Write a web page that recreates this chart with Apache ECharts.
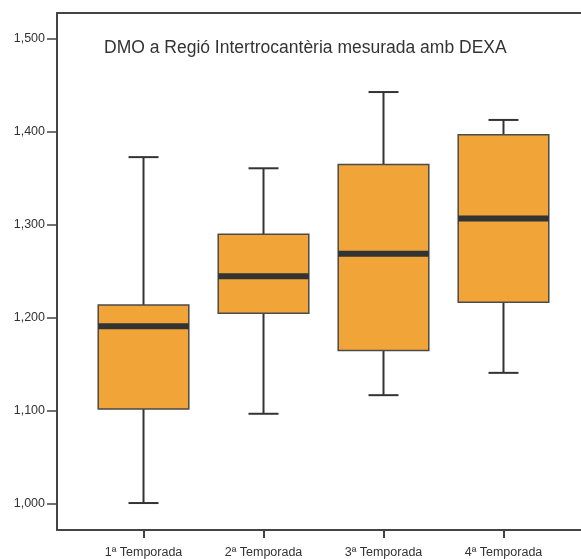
<!DOCTYPE html>
<html>
<head>
<meta charset="utf-8">
<script src="https://cdn.jsdelivr.net/npm/echarts@6/dist/echarts.min.js"></script>
<style>
  html, body { margin: 0; padding: 0; background: #fff; }
  #chart { width: 581px; height: 559px; }
</style>
</head>
<body>
<div id="chart"></div>
<script>
// Bone mineral density (g/cm²) per season, five-number summaries
const categories = ['1ª Temporada', '2ª Temporada', '3ª Temporada', '4ª Temporada'];
const minVals    = [1.001, 1.097, 1.117, 1.141];
const q1Vals     = [1.102, 1.205, 1.165, 1.217];
const medianVals = [1.191, 1.245, 1.269, 1.307];
const q3Vals     = [1.214, 1.290, 1.365, 1.397];
const maxVals    = [1.373, 1.361, 1.443, 1.413];
const yTicks     = [1.0, 1.1, 1.2, 1.3, 1.4, 1.5];
const xTicks     = [1, 2, 3, 4];
const titleText  = 'DMO a Regió Intertrocantèria mesurada amb DEXA';

const boxData = categories.map((c, i) => [i + 1, minVals[i], q1Vals[i], medianVals[i], q3Vals[i], maxVals[i]]);

const ink = '#333333';
const frame = '#444444';
const fill = '#F1A437';
const font = '"Liberation Sans", Arial, Helvetica, sans-serif';

function renderBox(params, api) {
  const x = api.value(0);
  const lo = api.coord([x, api.value(1)]);
  const q1 = api.coord([x, api.value(2)]);
  const med = api.coord([x, api.value(3)]);
  const q3 = api.coord([x, api.value(4)]);
  const hi = api.coord([x, api.value(5)]);
  const halfBox = api.size([0.755, 0])[0] / 2;
  const halfCap = api.size([0.25, 0])[0] / 2;
  const cx = lo[0];
  const lineStyle = { stroke: ink, lineWidth: 2 };
  return {
    type: 'group',
    children: [
      { type: 'line', shape: { x1: cx, y1: hi[1], x2: cx, y2: q3[1] }, style: lineStyle },
      { type: 'line', shape: { x1: cx, y1: q1[1], x2: cx, y2: lo[1] }, style: lineStyle },
      { type: 'line', shape: { x1: cx - halfCap, y1: hi[1], x2: cx + halfCap, y2: hi[1] }, style: lineStyle },
      { type: 'line', shape: { x1: cx - halfCap, y1: lo[1], x2: cx + halfCap, y2: lo[1] }, style: lineStyle },
      { type: 'rect', shape: { x: cx - halfBox, y: q3[1], width: halfBox * 2, height: q1[1] - q3[1] },
        style: { fill: fill, stroke: '#4a4a4a', lineWidth: 1.5 } },
      { type: 'line', shape: { x1: cx - halfBox, y1: med[1], x2: cx + halfBox, y2: med[1] },
        style: { stroke: ink, lineWidth: 6 } }
    ]
  };
}

const xRange = { min: 0.279, max: 4.646 };

const chart = echarts.init(document.getElementById('chart'), null, { renderer: 'canvas' });
chart.setOption({
  animation: false,
  backgroundColor: '#ffffff',
  title: {
    text: titleText,
    left: 99,
    top: 34,
    textStyle: { fontFamily: font, fontSize: 17.5, fontWeight: 'normal', color: ink }
  },
  grid: { left: 57, top: 13, right: 0, bottom: 26 },
  xAxis: [{
    type: 'value',
    min: xRange.min,
    max: xRange.max,
    splitLine: { show: false },
    axisLine: { show: true, onZero: false, lineStyle: { color: frame, width: 2 } },
    axisTick: { show: true, length: 8, customValues: xTicks, lineStyle: { color: frame, width: 2 } },
    axisLabel: {
      customValues: xTicks,
      margin: 16,
      fontFamily: font, fontSize: 12.5, color: ink,
      formatter: v => categories[Math.round(v) - 1] || ''
    }
  }, {
    // top edge of the plot frame
    type: 'value',
    position: 'top',
    min: xRange.min,
    max: xRange.max,
    splitLine: { show: false },
    axisLine: { show: true, onZero: false, lineStyle: { color: frame, width: 2 } },
    axisTick: { show: false },
    axisLabel: { show: false }
  }],
  yAxis: {
    type: 'value',
    min: 0.972,
    max: 1.528,
    splitLine: { show: false },
    axisLine: { show: true, lineStyle: { color: frame, width: 2 } },
    axisTick: { show: true, length: 10, customValues: yTicks, lineStyle: { color: frame, width: 1.5 } },
    axisLabel: {
      customValues: yTicks,
      margin: 12,
      fontFamily: font, fontSize: 12.5, color: ink,
      formatter: v => v.toFixed(3).replace('.', ',')
    }
  },
  series: [{
    type: 'custom',
    renderItem: renderBox,
    encode: { x: 0, y: [1, 2, 3, 4, 5] },
    data: boxData,
    clip: false
  }]
});
</script>
</body>
</html>
